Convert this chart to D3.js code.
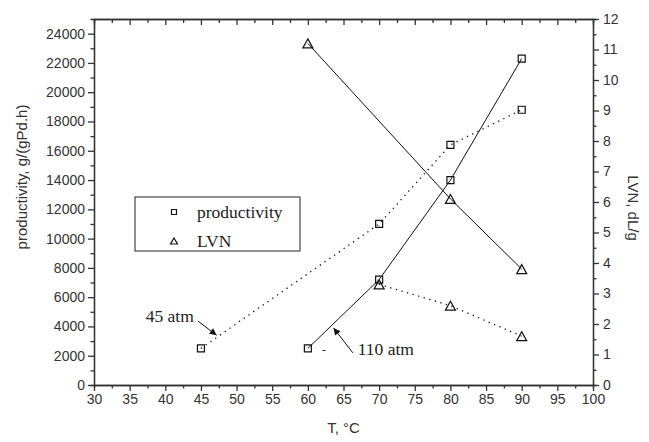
<html>
<head>
    <title>Productivity and LVN vs Temperature</title>
    <script src="https://d3js.org/d3.v7.min.js"></script>
    <style>
        body {
            margin: 0;
            background-color: white;
        }
        svg {
            display: block;
        }
        .axis text {
            font-family: "Liberation Sans", Arial, sans-serif;
            font-size: 14px;
            fill: #333;
        }
        .axis path, .axis line {
            stroke: #333;
            stroke-width: 1.3;
        }
        .title {
            font-family: "Liberation Sans", Arial, sans-serif;
            font-size: 15px;
            fill: #333;
        }
        .serif {
            font-family: "Liberation Serif", "Times New Roman", serif;
            font-size: 17.5px;
            fill: #222;
        }
    </style>
</head>
<body>
    <svg id="chart"></svg>

    <script>
        // productivity, 45 atm (dotted)
        const temps45 = [45, 70, 80, 90];
        const prod45 = [2500, 11000, 16400, 18800];
        // productivity, 110 atm (solid)
        const temps110 = [60, 70, 80, 90];
        const prod110 = [2500, 7200, 14000, 22300];
        // LVN, 110 atm (solid)
        const lvnTemps110 = [60, 80, 90];
        const lvn110 = [11.2, 6.1, 3.8];
        // LVN, 45 atm (dotted)
        const lvnTemps45 = [70, 80, 90];
        const lvn45 = [3.3, 2.6, 1.6];

        const xTicks = d3.range(30, 101, 5);
        const yLeftTicks = d3.range(0, 24001, 2000);
        const yRightTicks = d3.range(0, 13, 1);

        const W = 649, H = 442;
        const margin = { top: 19, right: 56, bottom: 57, left: 94 };
        const width = W - margin.left - margin.right;
        const height = H - margin.top - margin.bottom;

        const root = d3.select("#chart")
            .attr("width", W)
            .attr("height", H);
        const svg = root.append("g")
            .attr("transform", "translate(" + margin.left + "," + margin.top + ")");

        const x = d3.scaleLinear().domain([30, 100]).range([0, width]);
        const yL = d3.scaleLinear().domain([0, 25000]).range([height, 0]);
        const yR = d3.scaleLinear().domain([0, 12]).range([height, 0]);
        const fmt = d3.format("d");

        // minor ticks first
        svg.append("g").attr("class", "axis")
            .attr("transform", "translate(0," + height + ")")
            .call(d3.axisBottom(x).tickValues(d3.range(32.5, 100, 5)).tickSize(3.5).tickFormat(""));
        svg.append("g").attr("class", "axis")
            .call(d3.axisTop(x).tickValues(d3.range(32.5, 100, 5)).tickSize(-4).tickFormat(""));
        svg.append("g").attr("class", "axis")
            .call(d3.axisLeft(yL).tickValues(d3.range(1000, 25000, 2000)).tickSize(3.5).tickFormat(""));
        svg.append("g").attr("class", "axis")
            .attr("transform", "translate(" + width + ",0)")
            .call(d3.axisRight(yR).tickValues(d3.range(0.5, 12, 1)).tickSize(3.5).tickFormat(""));

        // main axes
        svg.append("g").attr("class", "axis")
            .attr("transform", "translate(0," + height + ")")
            .call(d3.axisBottom(x).tickValues(xTicks).tickFormat(fmt).tickSize(6).tickSizeOuter(0).tickPadding(3));
        svg.append("g").attr("class", "axis")
            .call(d3.axisTop(x).tickValues(xTicks).tickSize(-6).tickSizeOuter(0).tickFormat(""));
        svg.append("g").attr("class", "axis")
            .call(d3.axisLeft(yL).tickValues(yLeftTicks).tickFormat(fmt).tickSize(6).tickSizeOuter(0).tickPadding(3));
        svg.append("g").attr("class", "axis")
            .attr("transform", "translate(" + width + ",0)")
            .call(d3.axisRight(yR).tickValues(yRightTicks).tickFormat(fmt).tickSize(6).tickSizeOuter(0).tickPadding(4));

        // axis titles
        svg.append("text").attr("class", "title")
            .attr("x", width / 2).attr("y", height + 48)
            .attr("text-anchor", "middle")
            .text("T, °C");
        svg.append("text").attr("class", "title")
            .attr("transform", "translate(" + (-67) + "," + 158 + ") rotate(-90)")
            .attr("text-anchor", "middle")
            .text("productivity, g/(gPd.h)");
        svg.append("text").attr("class", "title")
            .attr("transform", "translate(" + (width + 35) + "," + 189 + ") rotate(90)")
            .attr("text-anchor", "middle")
            .text("LVN, dL/g");

        // lines
        function series(ts, vs, yScale, dotted) {
            const pts = ts.map((t, i) => [x(t), yScale(vs[i])]);
            svg.append("path")
                .attr("d", d3.line()(pts))
                .attr("fill", "none")
                .attr("stroke", "#111")
                .attr("stroke-width", dotted ? 1.3 : 1)
                .attr("stroke-dasharray", dotted ? "1.3,4.5" : null);
            return pts;
        }
        const squarePath = s => "M" + (-s) + "," + (-s) + "h" + (2 * s) + "v" + (2 * s) + "h" + (-2 * s) + "Z";
        const trianglePath = (w, h) => "M0," + (-h / 2) + "L" + w + "," + (h / 2) + "L" + (-w) + "," + (h / 2) + "Z";

        function markers(pts, d) {
            svg.append("g").selectAll("path")
                .data(pts)
                .enter()
                .append("path")
                .attr("transform", p => "translate(" + p[0] + "," + p[1] + ")")
                .attr("d", d)
                .attr("fill", "none")
                .attr("stroke", "#111")
                .attr("stroke-width", 1.2);
        }

        markers(series(temps45, prod45, yL, true), squarePath(3.5));
        markers(series(temps110, prod110, yL, false), squarePath(3.5));
        markers(series(lvnTemps110, lvn110, yR, false), trianglePath(5, 9));
        markers(series(lvnTemps45, lvn45, yR, true), trianglePath(5, 9));

        // annotations
        const defs = root.append("defs");
        defs.append("marker")
            .attr("id", "arrow")
            .attr("viewBox", "0 0 10 10")
            .attr("refX", 10).attr("refY", 5)
            .attr("markerWidth", 8).attr("markerHeight", 7)
            .attr("markerUnits", "userSpaceOnUse")
            .attr("orient", "auto")
            .append("path")
            .attr("d", "M0,0L10,5L0,10Z")
            .attr("fill", "#111");

        svg.append("line")
            .attr("x1", x(44.6)).attr("y1", yL(4360))
            .attr("x2", x(47.2)).attr("y2", yL(3400))
            .attr("stroke", "#111").attr("stroke-width", 1)
            .attr("marker-end", "url(#arrow)");
        svg.append("text").attr("class", "serif")
            .attr("x", x(44)).attr("y", yL(4725))
            .attr("dy", "0.35em")
            .attr("text-anchor", "end")
            .text("45 atm");

        svg.append("line")
            .attr("x1", x(66.3)).attr("y1", yL(2200))
            .attr("x2", x(63.6)).attr("y2", yL(3900))
            .attr("stroke", "#111").attr("stroke-width", 1)
            .attr("marker-end", "url(#arrow)");
        svg.append("text").attr("class", "serif")
            .attr("x", x(67)).attr("y", yL(2450))
            .attr("dy", "0.35em")
            .text("110 atm");
        svg.append("text").attr("class", "serif")
            .attr("x", x(62)).attr("y", yL(2400))
            .attr("dy", "0.35em")
            .style("font-size", "12px")
            .text("-");

        // legend
        const legend = root.append("g").attr("transform", "translate(135,197)");
        legend.append("rect")
            .attr("width", 165).attr("height", 54)
            .attr("fill", "white")
            .attr("stroke", "#222")
            .attr("stroke-width", 1);
        legend.append("path")
            .attr("transform", "translate(39,15)")
            .attr("d", squarePath(2.5))
            .attr("fill", "none").attr("stroke", "#111").attr("stroke-width", 1.2);
        legend.append("path")
            .attr("transform", "translate(39,44)")
            .attr("d", trianglePath(3.5, 6))
            .attr("fill", "none").attr("stroke", "#111").attr("stroke-width", 1.2);
        legend.append("text").attr("class", "serif")
            .attr("x", 62).attr("y", 15).attr("dy", "0.35em")
            .text("productivity");
        legend.append("text").attr("class", "serif")
            .attr("x", 62).attr("y", 44).attr("dy", "0.35em")
            .text("LVN");
    </script>
</body>
</html>
